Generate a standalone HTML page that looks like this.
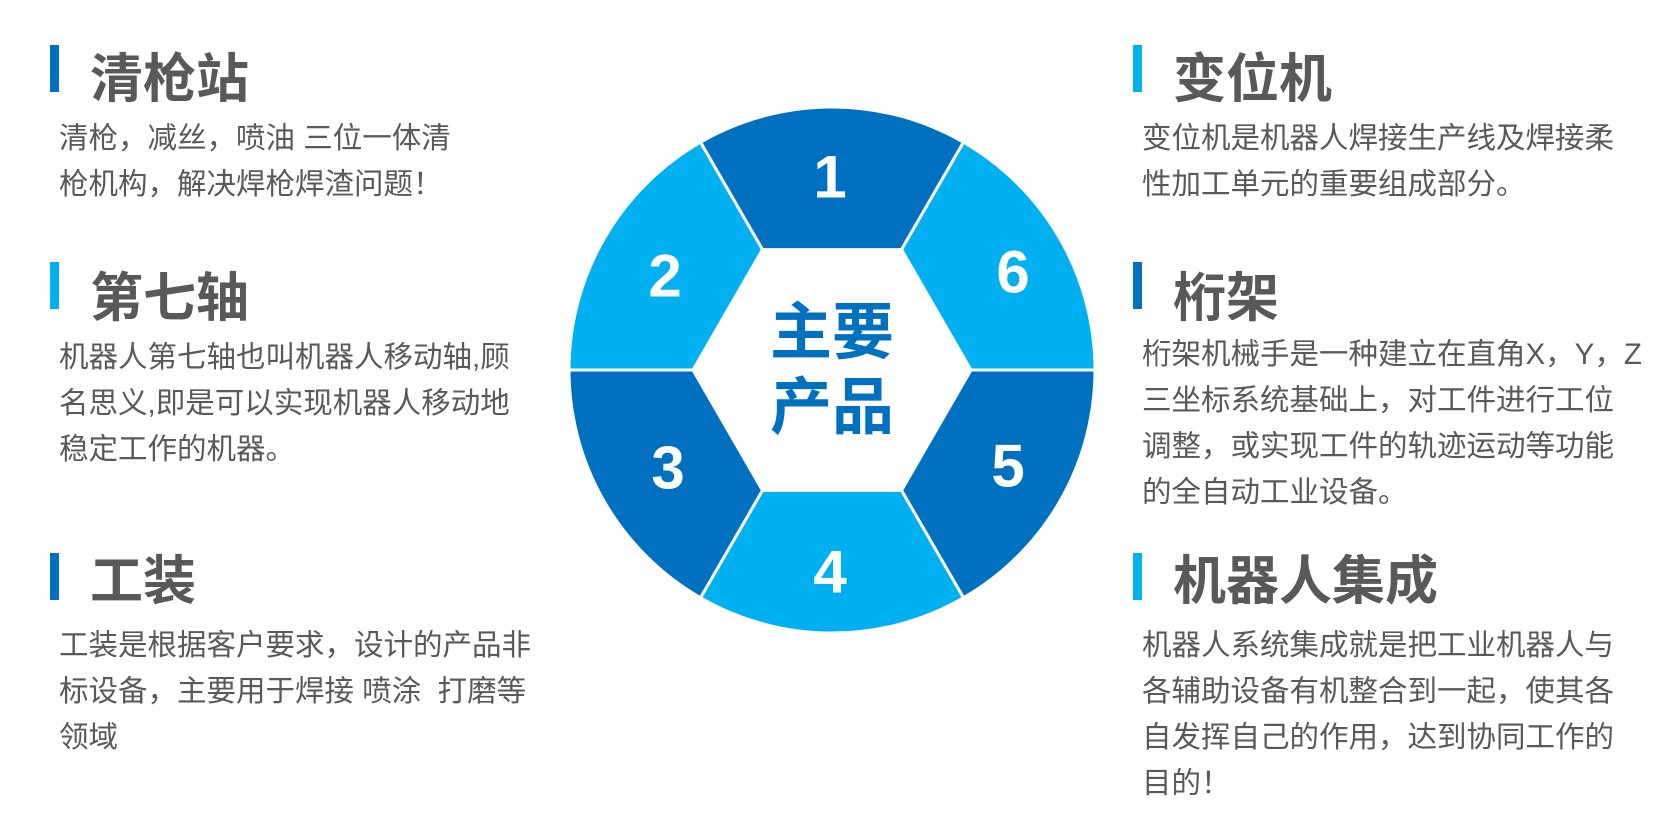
<!DOCTYPE html>
<html><head><meta charset="utf-8"><style>
html,body{margin:0;padding:0;background:#fff;}
body{width:1674px;height:813px;position:relative;overflow:hidden;font-family:"Liberation Sans","Noto Sans CJK SC",sans-serif;color:#595959;}
.bar{position:absolute;width:9px;height:47px;}
.t{position:absolute;font-size:53px;font-weight:bold;line-height:60px;white-space:nowrap;color:#595959;}
.b{position:absolute;font-size:29.5px;line-height:46px;white-space:nowrap;color:#595959;}
svg{position:absolute;left:0;top:0;}
</style></head><body>
<svg width="1674" height="813" viewBox="0 0 1674 813">
<g stroke="#fff" stroke-width="3">
<path d="M762.5,249.6 L700.5,142.2 A263,263 0 0 1 963.5,142.2 L901.5,249.6 Z" fill="#0070C0"/>
<path d="M901.5,249.6 L963.5,142.2 A263,263 0 0 1 1095,370 L971,370 Z" fill="#00B0F0"/>
<path d="M971,370 L1095,370 A263,263 0 0 1 963.5,597.8 L901.5,490.4 Z" fill="#0070C0"/>
<path d="M901.5,490.4 L963.5,597.8 A263,263 0 0 1 700.5,597.8 L762.5,490.4 Z" fill="#00B0F0"/>
<path d="M762.5,490.4 L700.5,597.8 A263,263 0 0 1 569,370 L693,370 Z" fill="#0070C0"/>
<path d="M693,370 L569,370 A263,263 0 0 1 700.5,142.2 L762.5,249.6 Z" fill="#00B0F0"/>
</g>
<g fill="#fff" font-family="Liberation Sans, sans-serif" font-weight="bold" font-size="60" text-anchor="middle" dominant-baseline="central">
<text x="830" y="177">1</text>
<text x="665" y="276">2</text>
<text x="1013" y="272">6</text>
<text x="668" y="468">3</text>
<text x="1008" y="466">5</text>
<text x="830" y="572">4</text>
</g>
<g fill="#0070C0" font-family="Liberation Sans, Noto Sans CJK SC, sans-serif" font-weight="bold" font-size="62" text-anchor="middle" dominant-baseline="central">
<text x="832" y="333">主要</text>
<text x="832" y="408">产品</text>
</g>
</svg>

<div class="bar" style="left:50px;top:45px;background:#0070C0"></div>
<div class="t" style="left:90px;top:50px">清枪站</div>
<div class="b" style="left:59px;top:116px">清枪，减丝，喷油 三位一体清<br>枪机构，解决焊枪焊渣问题！</div>

<div class="bar" style="left:50px;top:262px;background:#00B0F0"></div>
<div class="t" style="left:90px;top:269px">第七轴</div>
<div class="b" style="left:59px;top:335px">机器人第七轴也叫机器人移动轴,顾<br>名思义,即是可以实现机器人移动地<br>稳定工作的机器。</div>

<div class="bar" style="left:50px;top:553px;background:#0070C0"></div>
<div class="t" style="left:90px;top:552px">工装</div>
<div class="b" style="left:59px;top:623px">工装是根据客户要求，设计的产品非<br>标设备，主要用于焊接 喷涂&nbsp; 打磨等<br>领域</div>

<div class="bar" style="left:1133px;top:45px;background:#00B0F0"></div>
<div class="t" style="left:1173px;top:50px">变位机</div>
<div class="b" style="left:1142px;top:116px">变位机是机器人焊接生产线及焊接柔<br>性加工单元的重要组成部分。</div>

<div class="bar" style="left:1133px;top:262px;background:#0070C0"></div>
<div class="t" style="left:1173px;top:269px">桁架</div>
<div class="b" style="left:1142px;top:332px">桁架机械手是一种建立在直角X，Y，Z<br>三坐标系统基础上，对工件进行工位<br>调整，或实现工件的轨迹运动等功能<br>的全自动工业设备。</div>

<div class="bar" style="left:1133px;top:553px;background:#00B0F0"></div>
<div class="t" style="left:1173px;top:552px">机器人集成</div>
<div class="b" style="left:1142px;top:623px">机器人系统集成就是把工业机器人与<br>各辅助设备有机整合到一起，使其各<br>自发挥自己的作用，达到协同工作的<br>目的！</div>
</body></html>
